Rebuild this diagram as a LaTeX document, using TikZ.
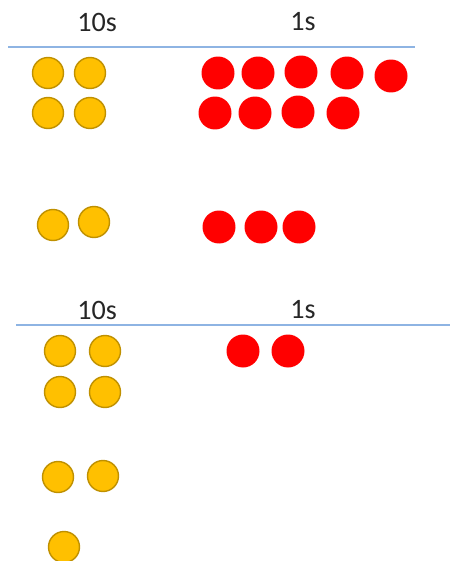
\documentclass[tikz,border=0pt]{standalone}
\usepackage{fontspec}
\setmainfont{Carlito}
\usetikzlibrary{positioning}
\definecolor{tenfill}{HTML}{FFC000}
\definecolor{tenline}{HTML}{BF9000}
\definecolor{onefill}{HTML}{FF0000}
\definecolor{rulecol}{HTML}{8EB4E3}
\tikzset{
  ten/.style={circle,fill=tenfill,draw=tenline,line width=0.8pt,
              minimum size=0.62cm,inner sep=0pt},
  one/.style={circle,fill=onefill,minimum size=0.66cm,inner sep=0pt},
  head/.style={font=\fontsize{16}{18}\selectfont,text=black!85},
  colrule/.style={draw=rulecol,line width=1pt},
}

\begin{document}
\begin{tikzpicture}[x=0.02cm,y=-0.02cm]
\useasboundingbox (0,0) rectangle (450,561);

% first table
\node[head] (h10a) at (97,22) {10s};
\node[head] (h1a) at (303,22) {1s};
\coordinate (la) at (8,47);
\coordinate (ra) at (415,47);
\draw[colrule] (la) -- (ra);

\foreach \x/\y [count=\i] in {48/73, 90/73, 48/113, 90/113, 53/225, 94/222}
  \node[ten] (ta\i) at (\x,\y) {};
\foreach \x/\y [count=\i] in {218/73, 258/73, 301/72, 347/73, 391/76,
                              215/113, 255/113, 298/112, 343/113,
                              219/227, 261/227, 299/227}
  \node[one] (oa\i) at (\x,\y) {};

% second table
\node[head] (h10b) at (97,310) {10s};
\node[head] (h1b) at (303,310) {1s};
\coordinate (lb) at (16,325);
\coordinate (rb) at (450,325);
\draw[colrule] (lb) -- (rb);

\foreach \x/\y [count=\i] in {60/351, 105/351, 60/392, 105/392,
                              58/477, 103/476, 64/547}
  \node[ten] (tb\i) at (\x,\y) {};
\foreach \x/\y [count=\i] in {243/351, 288/351}
  \node[one] (ob\i) at (\x,\y) {};

\end{tikzpicture}
\end{document}
